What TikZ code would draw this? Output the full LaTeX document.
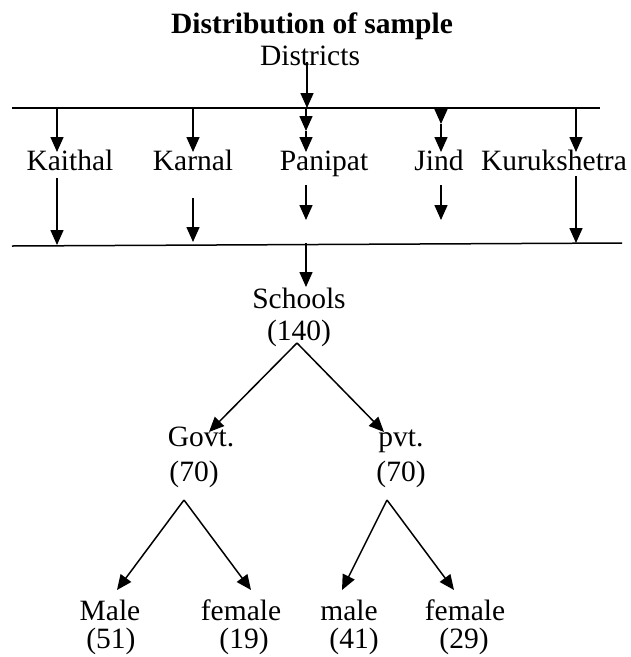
\documentclass[tikz,border=0pt]{standalone}
\usepackage{fontspec}
\setmainfont{Liberation Serif}
\usetikzlibrary{arrows.meta}
\begin{document}
\begin{tikzpicture}[x=1pt,y=-1pt,
  lbl/.style={font=\fontsize{29.5}{34}\selectfont, inner sep=0pt, anchor=base},
  ttl/.style={font=\fontsize{29.5}{34}\selectfont\bfseries, inner sep=0pt, anchor=base},
  arr/.style={line width=1.5pt, -{Triangle[length=15pt,width=13pt]}},
  rule/.style={line width=1.5pt}]
\useasboundingbox (0,0) rectangle (631,657);
% texts
\node[ttl] (title) at (312,33) {Distribution of sample};
\node[lbl] (districts) at (310,65) {Districts};
\node[lbl] (kaithal) at (70,170) {Kaithal};
\node[lbl] (karnal) at (193,170) {Karnal};
\node[lbl] (panipat) at (324,170) {Panipat};
\node[lbl] (jind) at (439,170) {Jind};
\node[lbl] (kuru) at (554,170) {Kurukshetra};
\node[lbl] (schools) at (299,308) {Schools};
\node[lbl] (schoolsn) at (299,340) {(140)};
\node[lbl] (govt) at (201,446) {Govt.};
\node[lbl] (govtn) at (194,481) {(70)};
\node[lbl] (pvt) at (401,446) {pvt.};
\node[lbl] (pvtn) at (401,481) {(70)};
\node[lbl] (gm) at (110,620) {Male};
\node[lbl] (gmn) at (111,648) {(51)};
\node[lbl] (gf) at (241,620) {female};
\node[lbl] (gfn) at (244,648) {(19)};
\node[lbl] (pm) at (349,620) {male};
\node[lbl] (pmn) at (354,648) {(41)};
\node[lbl] (pf) at (465,620) {female};
\node[lbl] (pfn) at (464,648) {(29)};
% named coordinates
\coordinate (tl1) at (12,108);
\coordinate (tl2) at (600,108);
\coordinate (bl1) at (12,246);
\coordinate (bl2) at (622,243);
\coordinate (dsrc) at (307,62);
\coordinate (dhit) at (307,108);
\foreach \n/\x in {ka/57,kr/193,pa/306,ji/441,ku/576}{
  \coordinate (\n top) at (\x,108);
  \coordinate (\n tip) at (\x,152);
}
\coordinate (pamid) at (306,131);
\coordinate (jimid) at (441,124);
\coordinate (kalo) at (57,178);   \coordinate (kaend) at (57,245);
\coordinate (krlo) at (193,198);  \coordinate (krend) at (193,242);
\coordinate (palo) at (306,185);  \coordinate (paend) at (306,220);
\coordinate (jilo) at (441,185);  \coordinate (jiend) at (441,220);
\coordinate (kulo) at (576,176);  \coordinate (kuend) at (576,243);
\coordinate (ssrc) at (306,243);
\coordinate (stip) at (306,287);
\coordinate (sapex) at (297,343);
\coordinate (gtip) at (209,432);
\coordinate (ptip) at (384,432);
\coordinate (gapex) at (184,500);
\coordinate (papex) at (387,500);
\coordinate (gmtip) at (117,590);
\coordinate (gftip) at (251,590);
\coordinate (pmtip) at (342,590);
\coordinate (pftip) at (454,590);
% lines
\draw[rule] (tl1) -- (tl2);
\draw[rule] (bl1) -- (bl2);
\draw[arr] (dsrc) -- (dhit);
\draw[arr] (katop) -- (katip);
\draw[arr] (krtop) -- (krtip);
\draw[arr] (patop) -- (pamid);
\draw[arr] (pamid) -- (patip);
\draw[arr] (jitop) -- (jimid);
\draw[arr] (jimid) -- (jitip);
\draw[arr] (kutop) -- (kutip);
\draw[arr] (kalo) -- (kaend);
\draw[arr] (krlo) -- (krend);
\draw[arr] (palo) -- (paend);
\draw[arr] (jilo) -- (jiend);
\draw[arr] (kulo) -- (kuend);
\draw[arr] (ssrc) -- (stip);
\draw[arr] (sapex) -- (gtip);
\draw[arr] (sapex) -- (ptip);
\draw[arr] (gapex) -- (gmtip);
\draw[arr] (gapex) -- (gftip);
\draw[arr] (papex) -- (pmtip);
\draw[arr] (papex) -- (pftip);
\end{tikzpicture}
\end{document}
